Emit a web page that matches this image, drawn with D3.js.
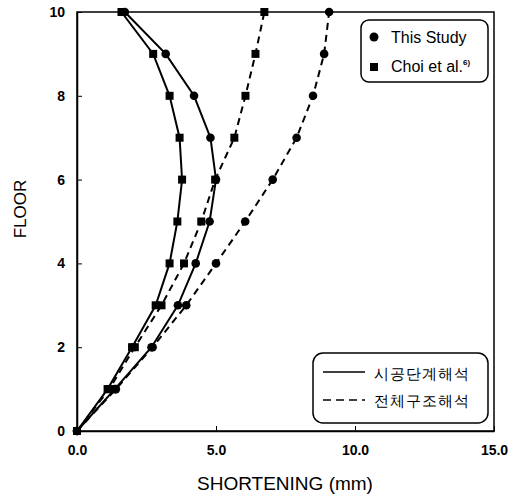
<!DOCTYPE html>
<html>
<head>
<meta charset="utf-8">
<script src="https://cdn.jsdelivr.net/npm/d3@7"></script>
<style>
body { margin: 0; background: #fff; }
text { font-family: "Liberation Sans", Arial, sans-serif; }
</style>
</head>
<body>
<script>
// floors 0..10
var floors = [0, 1, 2, 3, 4, 5, 6, 7, 8, 9, 10];
// shortening (mm)
var studyStage = [0, 1.36, 2.68, 3.63, 4.27, 4.77, 5.00, 4.80, 4.21, 3.19, 1.72];
var choiStage = [0, 1.10, 1.98, 2.83, 3.33, 3.61, 3.78, 3.69, 3.33, 2.74, 1.60];
var studyWhole = [0, 1.40, 2.72, 3.93, 5.00, 6.05, 7.04, 7.90, 8.49, 8.89, 9.07];
var choiWhole = [0, 1.16, 2.08, 3.04, 3.85, 4.47, 4.97, 5.66, 6.06, 6.42, 6.74];
var xTicks = [0, 5, 10, 15];
var yTicks = [0, 2, 4, 6, 8, 10];

var width = 518, height = 497;
var plotL = 77, plotR = 494, plotT = 12, plotB = 431;

var svg = d3.select('body').append('svg')
        .attr('width', width)
        .attr('height', height);

var x = d3.scaleLinear().domain([0, 15]).range([plotL, plotR]);
var y = d3.scaleLinear().domain([0, 10]).range([plotB, plotT]);

// frame
svg.append('rect')
        .attr('x', plotL).attr('y', plotT)
        .attr('width', plotR - plotL).attr('height', plotB - plotT)
        .attr('fill', 'none').attr('stroke', '#000').attr('stroke-width', 1.5);

// axes (ticks inward)
var xAxis = svg.append('g').attr('transform', 'translate(0,' + plotB + ')')
        .call(d3.axisBottom(x).tickValues(xTicks).tickSizeInner(-5).tickSizeOuter(0).tickPadding(14).tickFormat(d3.format('.1f')));
var yAxis = svg.append('g').attr('transform', 'translate(' + plotL + ',0)')
        .call(d3.axisLeft(y).tickValues(yTicks).tickSizeInner(-5).tickSizeOuter(0).tickPadding(12));
[xAxis, yAxis].forEach(function(g) {
    g.select('.domain').attr('stroke-width', 1.5);
    g.selectAll('text').attr('font-size', 14).attr('font-weight', 'bold')
        .attr('font-family', '"Liberation Sans", Arial, sans-serif');
});

// axis titles
svg.append('text')
        .text('SHORTENING (mm)')
        .attr('x', 285).attr('y', 490)
        .attr('text-anchor', 'middle')
        .attr('font-size', 19);
svg.append('text')
        .text('FLOOR')
        .attr('text-anchor', 'middle')
        .attr('font-size', 17)
        .attr('transform', 'translate(26,209) rotate(-90)');

var lineFunc = d3.line()
        .x(function(d, i) { return x(d); })
        .y(function(d, i) { return y(floors[i]); });

var series = [
    {vals: choiWhole, dash: '7,5', mark: 'sq'},
    {vals: studyWhole, dash: '7,5', mark: 'ci'},
    {vals: choiStage, dash: null, mark: 'sq'},
    {vals: studyStage, dash: null, mark: 'ci'}
];

series.forEach(function(s) {
    svg.append('path')
        .attr('d', lineFunc(s.vals))
        .attr('fill', 'none')
        .attr('stroke', '#000')
        .attr('stroke-width', 2)
        .attr('stroke-dasharray', s.dash);
    var pts = svg.append('g').selectAll('.m').data(s.vals).enter();
    if (s.mark === 'ci') {
        pts.append('circle')
            .attr('cx', function(d) { return x(d); })
            .attr('cy', function(d, i) { return y(floors[i]); })
            .attr('r', 4.3)
            .attr('fill', '#000');
    } else {
        pts.append('rect')
            .attr('x', function(d) { return x(d) - 4; })
            .attr('y', function(d, i) { return y(floors[i]) - 4; })
            .attr('width', 8).attr('height', 8)
            .attr('fill', '#000');
    }
});

// legend: markers
var lg1 = svg.append('g');
lg1.append('rect')
        .attr('x', 361).attr('y', 20).attr('width', 127).attr('height', 62)
        .attr('rx', 8).attr('fill', '#fff').attr('stroke', '#000').attr('stroke-width', 1.5);
lg1.append('circle').attr('cx', 374).attr('cy', 37).attr('r', 4.5).attr('fill', '#000');
lg1.append('text').text('This Study').attr('x', 391).attr('y', 43).attr('font-size', 16);
lg1.append('rect').attr('x', 370).attr('y', 63).attr('width', 8).attr('height', 8).attr('fill', '#000');
var ct = lg1.append('text').attr('x', 391).attr('y', 72).attr('font-size', 16);
ct.append('tspan').text('Choi et al.');
ct.append('tspan').text('6)').attr('font-size', 8).attr('font-weight', 'bold').attr('dy', -7);

// legend: line styles
var lg2 = svg.append('g');
lg2.append('rect')
        .attr('x', 313).attr('y', 353).attr('width', 175).attr('height', 70)
        .attr('rx', 10).attr('fill', '#fff').attr('stroke', '#000').attr('stroke-width', 1.5);
lg2.append('line').attr('x1', 323).attr('x2', 365).attr('y1', 372).attr('y2', 372)
        .attr('stroke', '#000').attr('stroke-width', 1.5);
lg2.append('line').attr('x1', 323).attr('x2', 365).attr('y1', 400).attr('y2', 400)
        .attr('stroke', '#000').attr('stroke-width', 1.5).attr('stroke-dasharray', '8,5');
lg2.append('text').text('시공단계해석').attr('x', 374).attr('y', 379)
        .attr('font-size', 15).attr('font-family', '"Noto Sans CJK KR"').attr('letter-spacing', 1);
lg2.append('text').text('전체구조해석').attr('x', 374).attr('y', 406)
        .attr('font-size', 15).attr('font-family', '"Noto Sans CJK KR"').attr('letter-spacing', 1);
</script>
</body>
</html>
